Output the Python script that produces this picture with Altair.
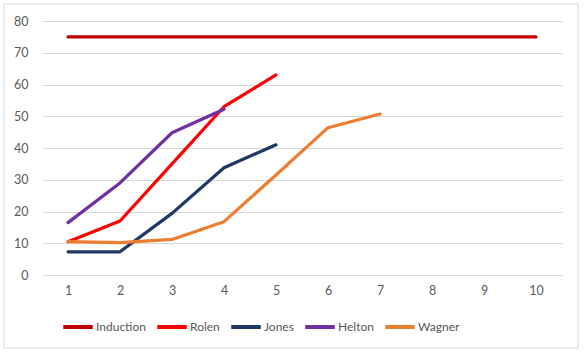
import altair as alt
import pandas as pd

categories = [1, 2, 3, 4, 5, 6, 7, 8, 9, 10]
series_names = ["Induction", "Rolen", "Jones", "Helton", "Wagner"]
induction = [75, 75, 75, 75, 75, 75, 75, 75, 75, 75]
rolen = [10.5, 17, 35, 53, 63]
jones = [7.3, 7.3, 19.4, 33.8, 41]
helton = [16.5, 29, 44.8, 52.2]
wagner = [10.5, 10.2, 11.2, 16.8, 31.5, 46.4, 50.7]
colors = ["#C00000", "#FF0000", "#203864", "#7030A0", "#ED7D31"]

rows = []
for name, vals in zip(series_names, [induction, rolen, jones, helton, wagner]):
    for i, v in enumerate(vals):
        rows.append({"x": categories[i], "value": v, "series": name, "order": series_names.index(name)})
df = pd.DataFrame(rows)

lines = alt.Chart(df).mark_line(strokeWidth=3.2, strokeCap="round", strokeJoin="round").encode(
    x=alt.X("x:O", sort=categories, scale=alt.Scale(domain=categories, padding=0.5),
            axis=alt.Axis(title=None, labelAngle=0, domain=False, ticks=False, grid=False,
                          labelPadding=9, labelColor="#595959", labelFont="Lato", labelFontSize=12.5)),
    y=alt.Y("value:Q", scale=alt.Scale(domain=[0, 80], nice=False),
            axis=alt.Axis(title=None, values=list(range(0, 81, 10)), domain=False, ticks=False,
                          gridColor="#D9D9D9", gridWidth=1, labelPadding=14,
                          labelColor="#595959", labelFont="Lato", labelFontSize=12.5)),
    color=alt.Color("series:N", sort=series_names,
                    scale=alt.Scale(domain=series_names, range=colors),
                    legend=alt.Legend(title=None, orient="none", direction="horizontal",
                                      legendX=19, legendY=289, symbolType="stroke",
                                      symbolSize=870, symbolStrokeWidth=4, symbolOffset=0,
                                      labelFont="Lato", labelFontSize=12, labelColor="#595959",
                                      labelOffset=1, columnPadding=3)),
    detail="order:O",
)

border = alt.Chart(pd.DataFrame({"a": [0]})).mark_rect(fill=None, stroke="#D9D9D9", strokeWidth=1).encode(
    x=alt.value(-38), x2=alt.value(536), y=alt.value(-17), y2=alt.value(327)
)

chart = alt.layer(border, lines).properties(
    width=520, height=254,
    autosize=alt.AutoSizeParams(type="none"),
    padding={"left": 42, "top": 21, "right": 23, "bottom": 79},
    background="white",
).configure_view(stroke=None)

chart.save("out.html", embed_options={"renderer": "svg", "actions": False})
